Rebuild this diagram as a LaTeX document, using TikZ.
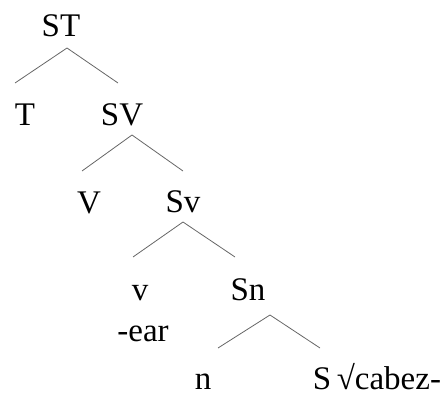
\documentclass[tikz,border=0pt]{standalone}
\usepackage{fontspec}
\setmainfont{Liberation Serif}
\usetikzlibrary{positioning}

\tikzset{
  lbl/.style={anchor=base, inner sep=0pt, font=\fontsize{33}{33}\selectfont},
  branch/.style={gray!80!black, line width=0.8pt}
}

\begin{document}
\begin{tikzpicture}[x=1pt,y=-1pt]
\useasboundingbox (0,0) rectangle (445,396);
% labels
\node[lbl] (ST) at (61,37) {ST};
\node[lbl] (T) at (25,125) {T};
\node[lbl] (SV) at (122,125) {SV};
\node[lbl] (V) at (89,213) {V};
\node[lbl] (Sv) at (183,212) {Sv};
\node[lbl] (v) at (140,300) {v};
\node[lbl] (ear) at (143,341) {-ear};
\node[lbl] (Sn) at (248,300) {Sn};
\node[lbl] (n) at (203,389) {n};
\node[lbl] (raiz) at (377,389) {S\,√cabez-};

% branch ends
\coordinate (ST-l) at (15,83);
\coordinate (ST-r) at (118,83);
\coordinate (SV-l) at (82,171);
\coordinate (SV-r) at (183,171);
\coordinate (Sv-l) at (133,257);
\coordinate (Sv-r) at (235,257);
\coordinate (Sn-l) at (218,348);
\coordinate (Sn-r) at (320,348);

\draw[branch] ([xshift=6pt,yshift=-11pt]ST.base) -- (ST-l);
\draw[branch] ([xshift=6pt,yshift=-11pt]ST.base) -- (ST-r);
\draw[branch] ([xshift=10pt,yshift=-10pt]SV.base) -- (SV-l);
\draw[branch] ([xshift=10pt,yshift=-10pt]SV.base) -- (SV-r);
\draw[branch] ([yshift=-10pt]Sv.base) -- (Sv-l);
\draw[branch] ([yshift=-10pt]Sv.base) -- (Sv-r);
\draw[branch] ([xshift=22pt,yshift=-15pt]Sn.base) -- (Sn-l);
\draw[branch] ([xshift=22pt,yshift=-15pt]Sn.base) -- (Sn-r);
\end{tikzpicture}
\end{document}
